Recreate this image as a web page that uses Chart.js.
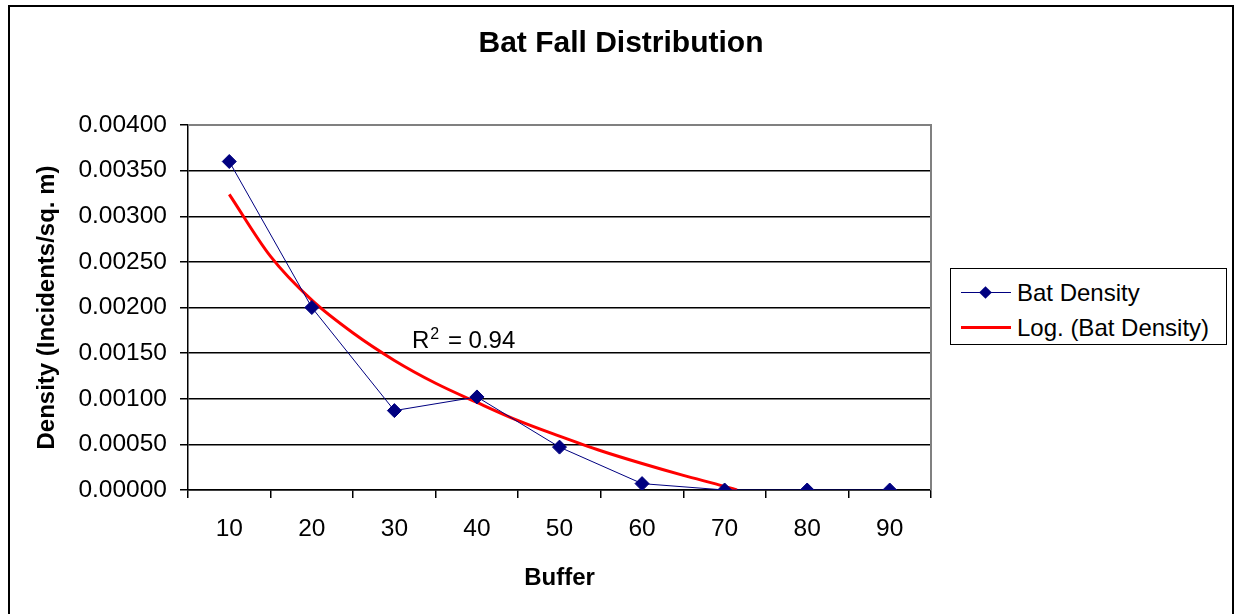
<!DOCTYPE html>
<html>
<head>
<meta charset="utf-8">
<script src="https://cdn.jsdelivr.net/npm/chart.js@4"></script>
<style>
  body { margin: 0; background: #fff; }
  #wrap { position: relative; width: 1235px; height: 614px; font-family: 'Liberation Sans', Arial, sans-serif; }
  #legend { position: absolute; left: 950px; top: 268px; width: 275px; height: 75px; border: 1px solid #000; background: #fff; }
  .row { position: absolute; left: 0; height: 30px; width: 100%; }
  .row span { position: absolute; left: 66px; top: 0; font-size: 24px; line-height: 30px; color: #000; white-space: nowrap; }
  .ln { position: absolute; left: 10px; width: 50px; }
  .dm { position: absolute; left: 30px; width: 9px; height: 9px; background: #000080; transform: rotate(45deg); }
  #r2 { position: absolute; left: 412px; top: 328px; font-size: 24px; line-height: 24px; color: #000; }
  #r2 sup { font-size: 16px; vertical-align: 9px; line-height: 0; margin-left: 1px; margin-right: 2px; }
</style>
</head>
<body>
<div id="wrap">
  <canvas id="c" width="1235" height="614"></canvas>
  <div id="r2">R<sup>2</sup> = 0.94</div>
  <div id="legend">
    <div class="row" style="top:9px">
      <div class="ln" style="top:14px;height:1px;background:#000080"></div>
      <div class="dm" style="top:10px"></div>
      <span>Bat Density</span>
    </div>
    <div class="row" style="top:44px">
      <div class="ln" style="top:13px;height:3px;background:#ff0000"></div>
      <span>Log. (Bat Density)</span>
    </div>
  </div>
</div>
<script>
// values
const buffers = ['10', '20', '30', '40', '50', '60', '70', '80', '90'];
const batDensity = [0.00360, 0.00200, 0.00087, 0.00102, 0.00047, 0.00007, 0.0, 0.0, 0.0];

// red trendline
const trendX = [10, 15, 20, 25, 30, 35, 40, 45, 50, 55, 60, 65, 70, 71.5];
const trendY = [0.00324, 0.00256, 0.00208, 0.00172, 0.00142, 0.00117, 0.00096, 0.00076, 0.00059, 0.00043, 0.00029, 0.00016, 0.00004, 0.0];

const yTicks = { min: 0, max: 0.004, step: 0.0005 };

Chart.defaults.font.family = "'Liberation Sans', Arial, sans-serif";
Chart.defaults.color = '#000';

const frame = {
  id: 'frame',
  beforeDraw(chart) {
    const ctx = chart.ctx;
    ctx.save();
    ctx.fillStyle = '#fff';
    ctx.fillRect(0, 0, chart.width, chart.height);
    ctx.strokeStyle = '#000';
    ctx.lineWidth = 2;
    ctx.strokeRect(9, 6, 1224, 700);
    ctx.restore();
  },
  beforeDatasetsDraw(chart) {
    const a = chart.chartArea;
    const ctx = chart.ctx;
    ctx.save();
    ctx.strokeStyle = '#808080';
    ctx.lineWidth = 2;
    ctx.beginPath();
    ctx.moveTo(a.left, a.top);
    ctx.lineTo(a.right, a.top);
    ctx.lineTo(a.right, a.bottom);
    ctx.stroke();
    ctx.restore();
  }
};

new Chart(document.getElementById('c'), {
  type: 'line',
  data: {
    labels: buffers,
    datasets: [
      {
        label: 'Bat Density',
        data: batDensity,
        xAxisID: 'x',
        borderColor: '#000080',
        backgroundColor: '#000080',
        borderWidth: 1,
        pointStyle: 'rectRot',
        pointRadius: 7,
        pointHoverRadius: 7,
        tension: 0,
        order: 1
      },
      {
        label: 'Log. (Bat Density)',
        data: trendX.map((x, i) => ({ x: x, y: trendY[i] })),
        xAxisID: 'xt',
        borderColor: '#ff0000',
        borderWidth: 3,
        pointRadius: 0,
        cubicInterpolationMode: 'monotone',
        order: 2
      }
    ]
  },
  options: {
    responsive: false,
    animation: false,
    layout: { padding: { left: 7 } },
    plugins: {
      legend: { display: false },
      tooltip: { enabled: false },
      title: {
        display: true,
        text: 'Bat Fall Distribution',
        font: { size: 30, weight: 'bold' },
        padding: { top: 26, bottom: 63 }
      }
    },
    scales: {
      x: {
        type: 'category',
        offset: true,
        grid: { offset: true, drawOnChartArea: false, color: '#000', lineWidth: 1.5, tickLength: 8 },
        border: { color: '#000', width: 1.5 },
        ticks: { font: { size: 24.5 }, padding: 17 },
        title: { display: true, text: 'Buffer', font: { size: 24, weight: 'bold' }, padding: { top: 0, bottom: 21 } },
        afterFit(s) { s.height = 124; }
      },
      xt: {
        type: 'linear',
        display: false,
        min: 5,
        max: 95
      },
      y: {
        min: yTicks.min,
        max: yTicks.max,
        ticks: {
          stepSize: yTicks.step,
          font: { size: 24.5 },
          padding: 13,
          callback: v => v.toFixed(5)
        },
        grid: { color: '#000', lineWidth: 1.5, tickLength: 8 },
        border: { color: '#000', width: 1.5 },
        title: { display: true, text: 'Density (Incidents/sq. m)', font: { size: 24, weight: 'bold' }, padding: { top: 26, bottom: 0 } },
        afterFit(s) { s.width = 181; }
      },
      y2: {
        position: 'right',
        ticks: { display: false },
        grid: { display: false },
        border: { display: false },
        afterFit(s) { s.width = 304; }
      }
    }
  },
  plugins: [frame]
});
</script>
</body>
</html>
